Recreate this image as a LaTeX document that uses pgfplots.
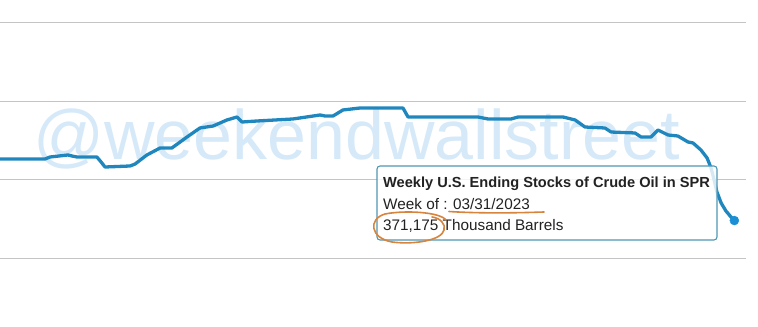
\documentclass[border=0pt]{standalone}
\usepackage{pgfplots}
\pgfplotsset{compat=1.18}
\usepackage{fontspec}
\setmainfont{Liberation Sans}
\definecolor{linecol}{HTML}{2087BE}
\definecolor{dotcol}{HTML}{1A8FD6}
\definecolor{wm}{HTML}{D6E9F9}
\definecolor{gridc}{HTML}{C4C4C4}
\definecolor{boxc}{HTML}{4E97B4}
\definecolor{orangec}{HTML}{D8843C}
\definecolor{txt}{HTML}{222222}
\begin{document}
\begin{tikzpicture}
% watermark (behind everything)
\begin{scope}[x=1bp,y=-1bp,yshift=327bp]
\node[anchor=base west,inner sep=0pt,text=wm,font=\fontsize{70bp}{80bp}\selectfont] at (33,160) {@weekendwallstreet};
\end{scope}
\begin{axis}[
  at={(0,0)}, anchor=south west,
  scale only axis, width=746bp, height=327bp,
  xmin=1997.10, xmax=2023.665,
  ymin=32834, ymax=1072040,
  axis line style={draw=none},
  xtick=\empty,
  ytick=\empty,
  major tick length=0pt,
  clip=true,
]
% horizontal grid lines
\draw[gridc, line width=1bp] (axis cs:1997.10,250000) -- (axis cs:2023.665,250000);
\draw[gridc, line width=1bp] (axis cs:1997.10,500000) -- (axis cs:2023.665,500000);
\draw[gridc, line width=1bp] (axis cs:1997.10,750000) -- (axis cs:2023.665,750000);
\draw[gridc, line width=1bp] (axis cs:1997.10,1000000) -- (axis cs:2023.665,1000000);
\addplot[linecol, line width=3.3bp, line join=round] coordinates {
(1997.10,566700) (1998.70,566700) (1998.88,573100) (1999.52,579500)
(1999.66,576300) (1999.84,573100) (2000.55,573100) (2000.70,557200)
(2000.84,541300) (2001.73,544500) (2001.91,550800) (2002.33,579500)
(2002.80,601700) (2003.22,601700) (2003.76,636700) (2004.22,665300)
(2004.69,671600) (2005.18,690700) (2005.54,700200) (2005.72,684300)
(2006.25,687500) (2007.53,693900) (2008.50,706600) (2008.67,703400)
(2008.96,703400) (2009.31,722500) (2009.92,728800) (2010.63,728800)
(2011.45,728800) (2011.63,700200) (2014.12,700200) (2014.48,693900)
(2015.30,693900) (2015.55,700200) (2017.15,700200) (2017.58,690700)
(2017.93,668400) (2018.64,665300) (2018.86,652500) (2019.71,649400)
(2019.93,636700) (2020.28,636700) (2020.53,658900) (2020.89,643000)
(2021.24,639800) (2021.60,620800) (2021.78,617600) (2022.06,595300)
(2022.28,569900) (2022.42,538100) (2022.53,500000) (2022.63,461900)
(2022.78,427000) (2022.95,401600) (2023.13,382500) (2023.25,371175)
};
\addplot[only marks, mark=*, mark size=4.5bp, dotcol, mark options={draw=dotcol,fill=dotcol}] coordinates {(2023.25,371175)};
\end{axis}
\begin{scope}[x=1bp,y=-1bp,yshift=327bp]
% tooltip
\draw[boxc, line width=1.1bp, rounded corners=3bp, fill=white, fill opacity=0.82] (377,166) rectangle (717,240);
\node[anchor=base west,inner sep=0pt,text=txt,font=\fontsize{14.6bp}{17bp}\selectfont\bfseries] at (383,188) {Weekly U.S. Ending Stocks of Crude Oil in SPR};
\node[anchor=base west,inner sep=0pt,text=txt,font=\fontsize{15.3bp}{17bp}\selectfont] at (383,209.5) {Week of : 03/31/2023};
\node[anchor=base west,inner sep=0pt,text=txt,font=\fontsize{15.3bp}{17bp}\selectfont] at (383,231) {371,175 Thousand Barrels};
% orange annotations
\draw[orangec, line width=1.6bp, line cap=round] (449,211.5) .. controls (480,213.5) and (515,213) .. (544,212);
\draw[orangec, line width=1.6bp, line cap=round] (446,220) .. controls (440,212) and (405,210) .. (385,214)
  .. controls (368,219) and (370,238) .. (392,242) .. controls (415,245) and (442,240) .. (444,230)
  .. controls (446,224) and (440,218) .. (432,217);
\end{scope}
\pgfresetboundingbox
\path (0,0) rectangle (758bp,327bp);
\end{tikzpicture}
\end{document}
